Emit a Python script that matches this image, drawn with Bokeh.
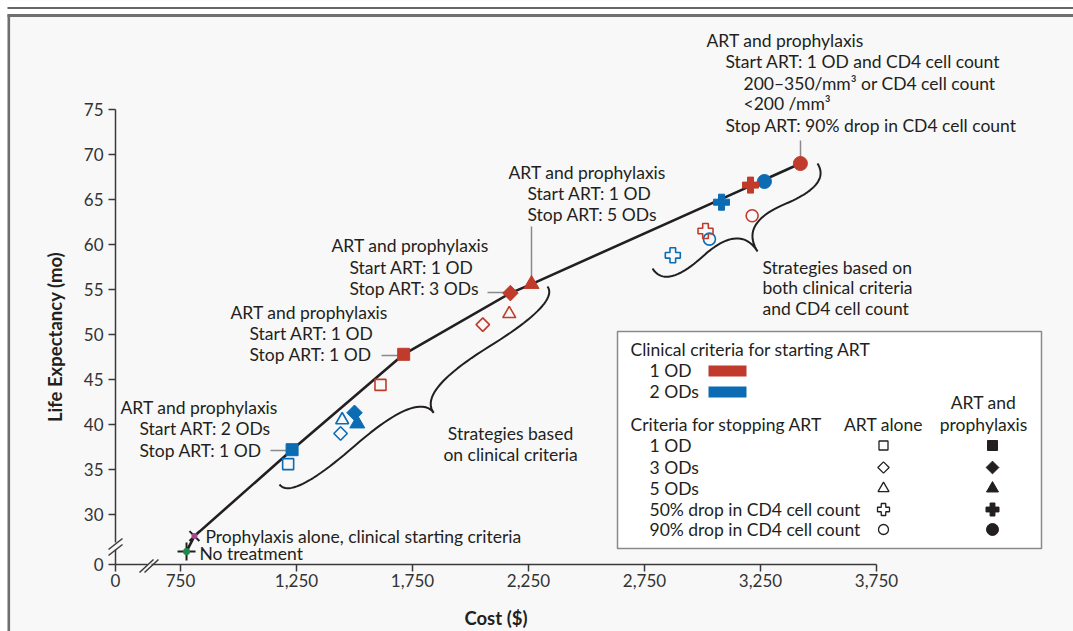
import math
import numpy as np
from bokeh.plotting import figure
from bokeh.models import Range1d, FixedTicker, CustomJSTickFormatter, LinearAxis
from bokeh.core.properties import value
from bokeh.embed import file_html
from bokeh.resources import INLINE

# ---------------- data ----------------
x_ticks = [0, 750, 1250, 1750, 2250, 2750, 3250, 3750]
y_ticks = [0, 30, 35, 40, 45, 50, 55, 60, 65, 70, 75]

stop_criteria = ["1 OD", "3 ODs", "5 ODs", "50% drop in CD4 cell count", "90% drop in CD4 cell count"]

# start ART at 1 OD (red)
red_alone_cost = [1612, 2053, 2167, 3013, 3214]
red_alone_le = [44.4, 51.1, 52.3, 61.5, 63.2]
red_proph_cost = [1712, 2172, 2263, 3207, 3422]
red_proph_le = [47.8, 54.6, 55.6, 66.6, 69.0]
# start ART at 2 ODs (blue)
blue_alone_cost = [1214, 1440, 1447, 2872, 3030]
blue_alone_le = [35.6, 39.0, 40.5, 58.8, 60.6]
blue_proph_cost = [1231, 1500, 1512, 3082, 3267]
blue_proph_le = [37.2, 41.3, 40.1, 64.7, 67.0]

no_treatment_cost = [776]
no_treatment_le = [25.9]
proph_alone_cost = [810]
proph_alone_le = [27.6]

# efficiency frontier
frontier_cost = [no_treatment_cost[0], proph_alone_cost[0], blue_proph_cost[0], red_proph_cost[0],
                 red_proph_cost[1], red_proph_cost[2], red_proph_cost[4]]
frontier_le = [no_treatment_le[0], proph_alone_le[0], blue_proph_le[0], red_proph_le[0],
               red_proph_le[1], red_proph_le[2], red_proph_le[4]]

# ---------------- layout helpers (page pixels -> data) ----------------
W, H = 1073, 631


def X(px):
    return 750 + (px - 180) / 0.232


def Y(py):
    return 30 + (514 - py) / 9.0


BX = X(115)   # position of broken "0" on x axis
BY = Y(564)   # position of broken "0" on y axis


def bx(v):
    return BX if v == 0 else v


def by(v):
    return BY if v == 0 else v


RED = "#c03b2b"
BLUE = "#0b6cb3"
INK = "#231f20"
GREY = "#8a8a8a"
BG = "#f8f8f8"
FONT = value("Lato")
FS = value("17.5px")

p = figure(width=W, height=H,
           x_range=Range1d(X(0), X(W)), y_range=Range1d(Y(H), Y(0)),
           output_backend="svg", toolbar_location=None,
           x_axis_location=None, y_axis_location=None,
           min_border=0, outline_line_color=None,
           background_fill_color=BG, border_fill_color="white")
p.grid.visible = False

# frame decoration (top rules and left border)
p.quad(left=[X(0)], right=[X(W)], top=[Y(0)], bottom=[Y(14)], fill_color="white", line_color=None)
p.quad(left=[X(0)], right=[X(7)], top=[Y(0)], bottom=[Y(H)], fill_color="white", line_color=None)
p.segment(x0=[X(7)], y0=[Y(7.5)], x1=[X(W)], y1=[Y(7.5)], line_color="#333333", line_width=1.5)
p.segment(x0=[X(7)], y0=[Y(15)], x1=[X(W)], y1=[Y(15)], line_color="#6f6f6f", line_width=3)
p.segment(x0=[X(8.3)], y0=[Y(14)], x1=[X(8.3)], y1=[Y(H)], line_color="#6f6f6f", line_width=2.6)

# axes
xaxis = LinearAxis(fixed_location=BY, bounds=(BX, x_ticks[-1]),
                   ticker=FixedTicker(ticks=[bx(v) for v in x_ticks]),
                   formatter=CustomJSTickFormatter(code="return tick < 700 ? '0' : Math.round(tick).toLocaleString('en-US')"),
                   axis_label="Cost ($)")
yaxis = LinearAxis(fixed_location=BX, bounds=(BY, y_ticks[-1]),
                   ticker=FixedTicker(ticks=[by(v) for v in y_ticks]),
                   formatter=CustomJSTickFormatter(code="return tick < 27 ? '0' : Math.round(tick).toString()"),
                   axis_label="Life Expectancy (mo)")
for ax in (xaxis, yaxis):
    ax.axis_line_color = "#3a3a3a"
    ax.axis_line_width = 1.5
    ax.major_tick_line_color = "#3a3a3a"
    ax.major_tick_line_width = 1.5
    ax.major_tick_out = 7
    ax.major_tick_in = 0
    ax.minor_tick_line_color = None
    ax.major_label_text_font = "Lato"
    ax.major_label_text_font_size = "17px"
    ax.major_label_text_color = "#333333"
    ax.axis_label_text_font = "Lato"
    ax.axis_label_text_font_style = "bold"
    ax.axis_label_text_font_size = "18.5px"
    ax.axis_label_text_color = INK
xaxis.major_label_standoff = 2
xaxis.axis_label_standoff = 17
yaxis.major_label_standoff = 5
yaxis.axis_label_standoff = 15
p.add_layout(xaxis, "below")
p.add_layout(yaxis, "left")

# axis breaks
p.quad(left=[X(112)], right=[X(118)], top=[Y(542)], bottom=[Y(549)], fill_color=BG, line_color=None, level="overlay")
p.quad(left=[X(147)], right=[X(151)], top=[Y(561)], bottom=[Y(567)], fill_color=BG, line_color=None, level="overlay")
p.segment(x0=[X(108), X(108), X(139), X(144)], y0=[Y(549), Y(555), Y(572), Y(572)],
          x1=[X(122), X(122), X(153), X(158)], y1=[Y(538), Y(544), Y(559), Y(559)],
          line_color="#3a3a3a", line_width=1.5, level="overlay")


# curly braces
def brace(p1, p2, w, q=0.6, n=24):
    (x1, y1), (x2, y2) = p1, p2
    dx, dy = x1 - x2, y1 - y2
    L = math.hypot(dx, dy)
    dx, dy = dx / L, dy / L
    q1 = np.array([x1 + q * w * dy, y1 - q * w * dx])
    q2 = np.array([(x1 - .25 * L * dx) + (1 - q) * w * dy, (y1 - .25 * L * dy) - (1 - q) * w * dx])
    t1 = np.array([(x1 - .5 * L * dx) + w * dy, (y1 - .5 * L * dy) - w * dx])
    q3 = np.array([x2 + q * w * dy, y2 - q * w * dx])
    q4 = np.array([(x1 - .75 * L * dx) + (1 - q) * w * dy, (y1 - .75 * L * dy) - (1 - q) * w * dx])
    t = np.linspace(0, 1, n)[:, None]

    def quad(a, c, b):
        return (1 - t) ** 2 * a + 2 * (1 - t) * t * c + t ** 2 * b
    P1, P2 = np.array(p1, float), np.array(p2, float)
    h1 = np.vstack([quad(P1, q1, q2), quad(q2, 2 * q2 - q1, t1)])
    h2 = np.vstack([quad(P2, q3, q4), quad(q4, 2 * q4 - q3, t1)])
    pts = np.vstack([h1, h2[::-1]])
    return [X(v) for v in pts[:, 0]], [Y(v) for v in pts[:, 1]]


for (a, b, w) in [((279, 484), (547, 286), 34), ((652, 268), (817, 163), 42)]:
    bxs, bys = brace(a, b, w)
    p.line(bxs, bys, line_color=INK, line_width=2)

# leader lines
p.segment(x0=[X(800), X(531), X(487), X(381), X(270)],
          y0=[Y(140), Y(226), Y(292), Y(355), Y(450)],
          x1=[X(800), X(531), X(506), X(398), X(287)],
          y1=[Y(157), Y(277), Y(292), Y(355), Y(450)],
          line_color=GREY, line_width=1.5)

# efficiency frontier
p.line(frontier_cost, frontier_le, line_color=INK, line_width=2.6)

# strategy markers (diamond drawn as a square turned by 45 degrees)
markers = ["square", "diamond", "triangle", "plus", "circle"]
shape = {"square": ("square", 0.0), "diamond": ("square", math.pi / 4), "triangle": ("triangle", 0.0),
         "plus": ("plus", 0.0), "circle": ("circle", 0.0)}
open_sz = {"square": 11, "diamond": 9.5, "triangle": 13, "plus": 15, "circle": 12}
fill_sz = {"square": 12, "diamond": 11, "triangle": 15, "plus": 16, "circle": 14}
for color, ac, al, pc, pl in [(BLUE, blue_alone_cost, blue_alone_le, blue_proph_cost, blue_proph_le),
                              (RED, red_alone_cost, red_alone_le, red_proph_cost, red_proph_le)]:
    for i, m in enumerate(markers):
        mk, ang = shape[m]
        p.scatter([ac[i]], [al[i]], marker=mk, angle=ang, size=open_sz[m], fill_color=None,
                  line_color=color, line_width=1.6)
        p.scatter([pc[i]], [pl[i]], marker=mk, angle=ang, size=fill_sz[m], fill_color=color,
                  line_color=color, line_width=1)

p.scatter(no_treatment_cost, no_treatment_le, marker="cross", size=18, line_color=INK, line_width=2)
p.scatter(no_treatment_cost, no_treatment_le, marker="circle", size=7, fill_color="#1d8a4b", line_color=None)
p.scatter(proph_alone_cost, proph_alone_le, marker="x", size=14, line_color=INK, line_width=2)
p.scatter(proph_alone_cost, proph_alone_le, marker="circle", size=6, fill_color="#a3488f", line_color=None)

# annotation texts
notes = [
    ("ART and prophylaxis", 706, 40), ("Start ART: 1 OD and CD4 cell count", 725, 61),
    ("200–350/mm³ or CD4 cell count", 743, 83), ("<200 /mm³", 743, 103),
    ("Stop ART: 90% drop in CD4 cell count", 725, 125),
    ("ART and prophylaxis", 508, 172), ("Start ART: 1 OD", 527, 193), ("Stop ART: 5 ODs", 527, 214),
    ("ART and prophylaxis", 331, 245), ("Start ART: 1 OD", 349, 267), ("Stop ART: 3 ODs", 349, 288),
    ("ART and prophylaxis", 230, 312), ("Start ART: 1 OD", 249, 333), ("Stop ART: 1 OD", 249, 354),
    ("ART and prophylaxis", 120, 407), ("Start ART: 2 ODs", 139, 428), ("Stop ART: 1 OD", 139, 450),
    ("Prophylaxis alone, clinical starting criteria", 205, 536), ("No treatment", 199, 553),
    ("Strategies based on", 762, 267), ("both clinical criteria", 762, 287), ("and  CD4 cell count", 762, 308),
]
p.text(x=[X(n[1]) for n in notes], y=[Y(n[2]) for n in notes], text=[n[0] for n in notes],
       text_font=FONT, text_font_size=FS, text_color=INK, text_align="left", text_baseline="middle")
center_notes = [("Strategies based", 510, 433), ("on clinical criteria", 510, 454)]
p.text(x=[X(n[1]) for n in center_notes], y=[Y(n[2]) for n in center_notes], text=[n[0] for n in center_notes],
       text_font=FONT, text_font_size=FS, text_color=INK, text_align="center", text_baseline="middle")

# legend box
p.quad(left=[X(617)], right=[X(1041)], top=[Y(331)], bottom=[Y(548)], fill_color="white",
       line_color=GREY, line_width=1.5)
p.quad(left=[X(708), X(708)], right=[X(746), X(746)], top=[Y(365), Y(386)], bottom=[Y(376), Y(397)],
       fill_color=[RED, BLUE], line_color=None)
row_y = [445, 467, 488, 509, 529]
leg_left = [("Clinical criteria for starting ART", 630, 349), ("1 OD", 649, 370), ("2 ODs", 649, 391),
            ("Criteria for stopping ART", 630, 424)] + [(s, 649, yy) for s, yy in zip(stop_criteria, row_y)]
p.text(x=[X(n[1]) for n in leg_left], y=[Y(n[2]) for n in leg_left], text=[n[0] for n in leg_left],
       text_font=FONT, text_font_size=FS, text_color=INK, text_align="left", text_baseline="middle")
leg_center = [("ART alone", 883, 424), ("ART and", 983, 402), ("prophylaxis", 983, 424)]
p.text(x=[X(n[1]) for n in leg_center], y=[Y(n[2]) for n in leg_center], text=[n[0] for n in leg_center],
       text_font=FONT, text_font_size=FS, text_color=INK, text_align="center", text_baseline="middle")
leg_open = {"square": 9, "diamond": 8, "triangle": 11, "plus": 12, "circle": 10}
leg_fill = {"square": 10, "diamond": 9, "triangle": 12, "plus": 13, "circle": 12}
for m, yy in zip(markers, row_y):
    mk, ang = shape[m]
    p.scatter([X(883)], [Y(yy)], marker=mk, angle=ang, size=leg_open[m], fill_color=None,
              line_color=INK, line_width=1.3)
    p.scatter([X(992)], [Y(yy)], marker=mk, angle=ang, size=leg_fill[m], fill_color=INK,
              line_color=INK, line_width=1)

open("out.html", "w").write(file_html(p, INLINE))
